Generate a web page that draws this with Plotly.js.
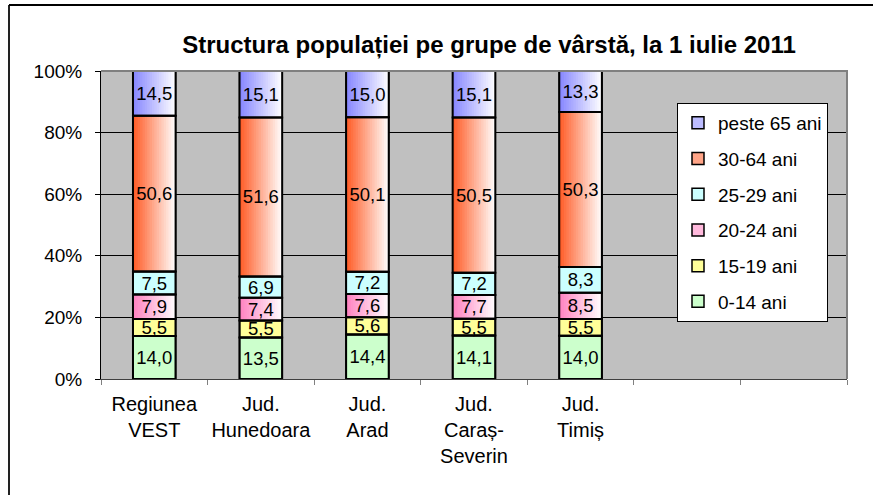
<!DOCTYPE html>
<html>
<head>
<meta charset="utf-8">
<script src="https://cdn.plot.ly/plotly-3.0.1.min.js"></script>
<style>
  html, body { margin: 0; padding: 0; background: #ffffff; }
  #chart { width: 873px; height: 495px; }
</style>
</head>
<body>
<div id="chart"></div>
<script>
// ---- data ----
const categories = ['Regiunea<br>VEST', 'Jud.<br>Hunedoara', 'Jud.<br>Arad', 'Jud.<br>Caraș-<br>Severin', 'Jud.<br>Timiș'];
const seriesNames = ['0-14 ani', '15-19 ani', '20-24 ani', '25-29 ani', '30-64 ani', 'peste 65 ani'];
const age0_14  = [14.0, 13.5, 14.4, 14.1, 14.0];
const age15_19 = [5.5, 5.5, 5.6, 5.5, 5.5];
const age20_24 = [7.9, 7.4, 7.6, 7.7, 8.5];
const age25_29 = [7.5, 6.9, 7.2, 7.2, 8.3];
const age30_64 = [50.6, 51.6, 50.1, 50.5, 50.3];
const age65plus = [14.5, 15.1, 15.0, 15.1, 13.3];
const yTickVals = [0, 20, 40, 60, 80, 100];

// ---- styles ----
const seriesData = [age0_14, age15_19, age20_24, age25_29, age30_64, age65plus];
const baseColors = ['#CCFFCC', '#FFFF99', '#FF80C0', '#CCFFFF', '#FF5A24', '#8585FF'];
const gradient   = [false, false, true, false, true, true];
const FONT = 'Liberation Sans, Arial, sans-serif';
const BARW = 0.4;
const STRIPS = 18;
const SLOTS = 7; // category slots on the axis (two left empty, as in the original)

function hexToRgb(h) {
  return [parseInt(h.slice(1, 3), 16), parseInt(h.slice(3, 5), 16), parseInt(h.slice(5, 7), 16)];
}
function toWhite(h, t) {
  const c = hexToRgb(h).map(v => Math.round(v + (255 - v) * t));
  return 'rgb(' + c.join(',') + ')';
}

// positions, 100% normalisation and stacking bases derived from the data
const xPos = categories.map((_, j) => j);
const totals = categories.map((_, j) => seriesData.reduce((s, arr) => s + arr[j], 0));
const pct = seriesData.map(arr => arr.map((v, j) => v / totals[j] * 100));
const bases = pct.map((arr, i) => arr.map((_, j) => {
  let b = 0;
  for (let k = 0; k < i; k++) b += pct[k][j];
  return b;
}));
const fmt = v => v.toFixed(1).replace('.', ',');

const traces = [];
// legend / base fill traces
seriesNames.forEach((name, i) => {
  traces.push({
    type: 'bar', x: xPos, y: pct[i], base: bases[i], width: BARW,
    name: name, legendgroup: 'g' + i, legendrank: 100 - i, showlegend: true,
    marker: { color: gradient[i] ? toWhite(baseColors[i], 0.45) : baseColors[i], line: { color: '#000', width: 1.5 } },
    hoverinfo: 'skip'
  });
});
// gradient strips
seriesNames.forEach((name, i) => {
  if (!gradient[i]) return;
  for (let k = 0; k < STRIPS; k++) {
    traces.push({
      type: 'bar', x: xPos, y: pct[i], base: bases[i],
      width: BARW * (STRIPS - k) / STRIPS,
      offset: -BARW / 2 + k * BARW / STRIPS,
      showlegend: false,
      marker: { color: toWhite(baseColors[i], (k + 0.5) / STRIPS), line: { width: 0 } },
      hoverinfo: 'skip'
    });
  }
});
// outlines + value labels
seriesNames.forEach((name, i) => {
  traces.push({
    type: 'bar', x: xPos, y: pct[i], base: bases[i], width: BARW,
    showlegend: false,
    marker: { color: 'rgba(0,0,0,0)', line: { color: '#000', width: 2 } },
    text: seriesData[i].map(fmt),
    textposition: 'inside', insidetextanchor: 'middle', constraintext: 'none', textangle: 0,
    textfont: { family: FONT, size: 18.5, color: '#000' },
    hoverinfo: 'skip'
  });
});

// ---- layout ----
const W = 873, H = 495;
const M = { l: 101, r: 26, t: 71, b: 116 };
const pw = W - M.l - M.r, ph = H - M.t - M.b;
const px2x = p => (p - M.l) / pw;
const py2y = p => (H - M.b - p) / ph;
const boundaries = Array.from({ length: SLOTS + 1 }, (_, k) => k - 0.5);

const layout = {
  width: W, height: H,
  margin: M,
  paper_bgcolor: '#ffffff',
  plot_bgcolor: '#C0C0C0',
  barmode: 'overlay',
  showlegend: true,
  font: { family: FONT, color: '#000' },
  title: {
    text: '<b>Structura populației pe grupe de vârstă, la 1 iulie 2011</b>',
    font: { family: FONT, size: 24, color: '#000' },
    x: 489 / W, xanchor: 'center', xref: 'container',
    y: 1 - 45 / H, yanchor: 'middle', yref: 'container'
  },
  xaxis: {
    type: 'linear',
    range: [-0.5, SLOTS - 0.5],
    tickmode: 'array', tickvals: xPos, ticktext: categories,
    tickangle: 0,
    ticks: '',
    ticklabelstandoff: 7,
    minor: { tickmode: 'array', tickvals: boundaries, ticks: 'outside', ticklen: 5, tickcolor: '#808080', tickwidth: 1, showgrid: false },
    showline: true, linecolor: '#404040', linewidth: 1,
    showgrid: false, zeroline: false,
    tickfont: { family: FONT, size: 20, color: '#000' },
    fixedrange: true
  },
  yaxis: {
    range: [0, 100],
    tickmode: 'array', tickvals: yTickVals,
    ticktext: yTickVals.map(v => v + '%'),
    ticks: 'outside', ticklen: 5, tickcolor: '#000', tickwidth: 1,
    ticklabelstandoff: 9,
    showline: true, linecolor: '#000', linewidth: 1,
    showgrid: true, gridcolor: '#000', gridwidth: 1,
    zeroline: false,
    tickfont: { family: FONT, size: 19, color: '#000' },
    fixedrange: true
  },
  legend: {
    x: px2x(677), xanchor: 'left',
    y: py2y(103), yanchor: 'top',
    bgcolor: '#ffffff', bordercolor: '#000', borderwidth: 1,
    font: { family: FONT, size: 19, color: '#000' },
    traceorder: 'grouped',
    tracegroupgap: 8
  },
  shapes: [
    // plot-area border (top & right)
    { type: 'path', xref: 'paper', yref: 'paper', path: 'M 0 1 L 1 1 L 1 0', line: { color: '#808080', width: 2 }, layer: 'above' },
    // outer chart frame (left & top)
    { type: 'line', xref: 'paper', yref: 'paper', x0: px2x(9), x1: px2x(9), y0: py2y(5), y1: py2y(520), line: { color: '#222', width: 2 } },
    { type: 'line', xref: 'paper', yref: 'paper', x0: px2x(9), x1: px2x(900), y0: py2y(5), y1: py2y(5), line: { color: '#000', width: 2 } }
  ]
};

Plotly.newPlot('chart', traces, layout, { displayModeBar: false, staticPlot: true });
</script>
</body>
</html>
